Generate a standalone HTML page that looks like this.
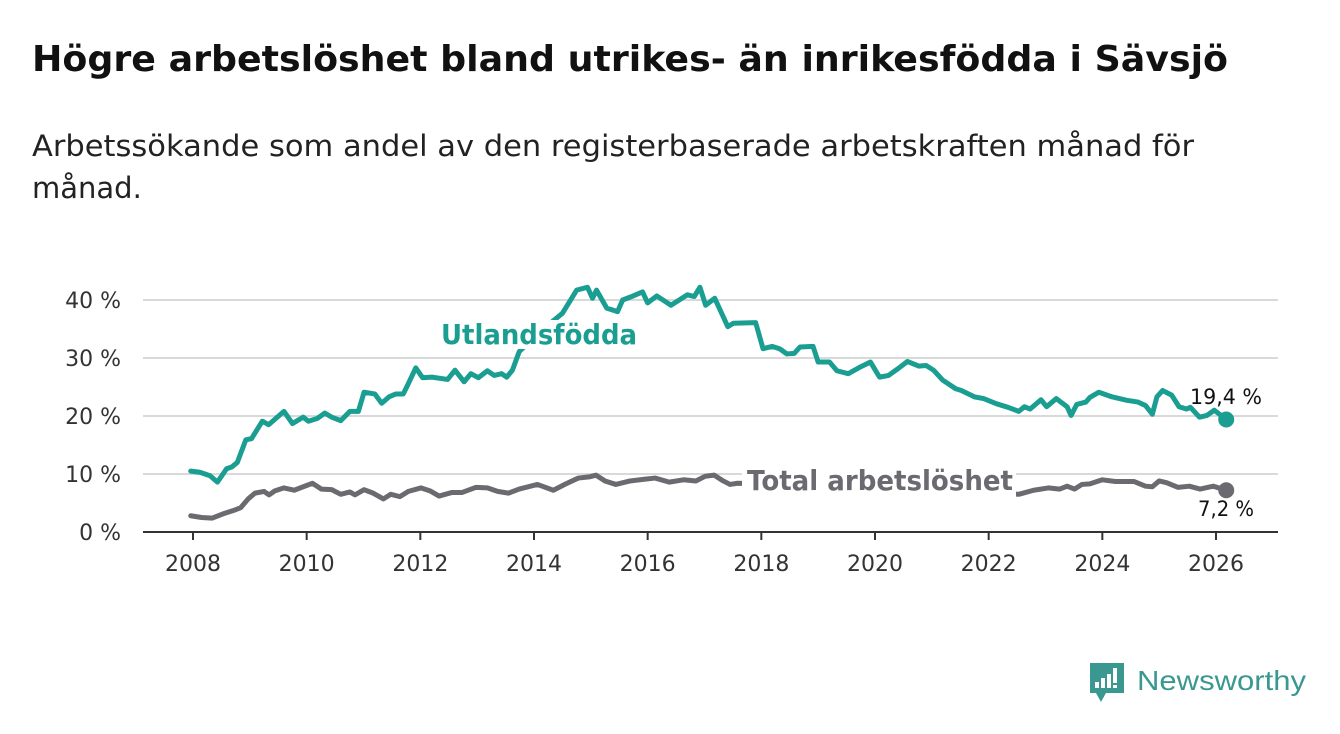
<!DOCTYPE html>
<html><head><meta charset="utf-8">
<style>
html,body{margin:0;padding:0;background:#fff;}
svg{display:block;font-family:"DejaVu Sans","Liberation Sans",sans-serif;}
</style></head>
<body>
<svg id="chart" width="1340" height="734" viewBox="0 0 1340 734">
<text x="32" y="71" font-size="36" font-weight="bold" fill="#111" textLength="1196" lengthAdjust="spacingAndGlyphs">Högre arbetslöshet bland utrikes- än inrikesfödda i Sävsjö</text>
<text x="32" y="156" font-size="29" fill="#222" textLength="1162" lengthAdjust="spacingAndGlyphs">Arbetssökande som andel av den registerbaserade arbetskraften månad för</text>
<text x="32" y="198" font-size="29" fill="#222">månad.</text>
<g id="grid"></g>
<g id="xaxis"></g>
<g id="series"></g>
<g id="labels"></g>
<g>
<path d="M1090 663 h34 v30 h-18 l-5 9 l-5 -9 h-6 z" fill="#3b9891"/>
<rect x="1095" y="682" width="4" height="6" fill="#fff"/><rect x="1101" y="678" width="4" height="10" fill="#fff"/><rect x="1107" y="674" width="4" height="14" fill="#fff"/><rect x="1113" y="668" width="4" height="15" fill="#fff"/><rect x="1113" y="685" width="4" height="3" fill="#fff"/>
<text x="1137" y="690" font-size="28" fill="#3b9891" textLength="169" lengthAdjust="spacingAndGlyphs" font-family="Liberation Sans, sans-serif">Newsworthy</text>
</g>
</svg>
<script>
const yTicks=[0,10,20,30,40];
const yTickLabels=["0 %","10 %","20 %","30 %","40 %"];
const xTicks=[2008,2010,2012,2014,2016,2018,2020,2022,2024,2026];
const foreignDates=[2007.96,2008.12,2008.3,2008.43,2008.59,2008.68,2008.78,2008.93,2009.03,2009.22,2009.33,2009.6,2009.75,2009.94,2010.03,2010.19,2010.32,2010.44,2010.6,2010.76,2010.91,2011.01,2011.2,2011.32,2011.45,2011.57,2011.7,2011.79,2011.92,2012.04,2012.2,2012.48,2012.61,2012.77,2012.89,2013.02,2013.18,2013.3,2013.43,2013.52,2013.62,2013.74,2014.1,2014.5,2014.75,2014.94,2015.03,2015.1,2015.28,2015.47,2015.56,2015.72,2015.91,2016.0,2016.16,2016.41,2016.7,2016.82,2016.92,2017.02,2017.18,2017.41,2017.51,2017.9,2018.03,2018.19,2018.32,2018.45,2018.58,2018.68,2018.91,2019.0,2019.2,2019.33,2019.53,2019.75,2019.92,2020.08,2020.24,2020.41,2020.57,2020.77,2020.9,2021.03,2021.19,2021.42,2021.52,2021.75,2021.91,2022.14,2022.34,2022.53,2022.63,2022.73,2022.92,2023.02,2023.19,2023.38,2023.45,2023.55,2023.71,2023.78,2023.94,2024.17,2024.43,2024.63,2024.76,2024.88,2024.96,2025.06,2025.22,2025.35,2025.48,2025.55,2025.71,2025.84,2025.97,2026.18];
const foreignValues=[10.5,10.3,9.7,8.6,10.9,11.2,12,15.9,16.1,19.1,18.5,20.8,18.7,19.8,19.1,19.6,20.5,19.8,19.2,20.8,20.8,24.1,23.8,22.2,23.3,23.8,23.8,25.6,28.3,26.6,26.7,26.3,27.9,25.9,27.3,26.6,27.8,27.0,27.3,26.7,27.9,31.1,34.5,37.7,41.7,42.2,40.3,41.7,38.6,38,40,40.6,41.4,39.5,40.7,39.1,40.9,40.6,42.2,39.1,40.3,35.4,36,36.1,31.6,32,31.6,30.7,30.8,31.9,32,29.3,29.3,27.8,27.3,28.5,29.3,26.7,27,28.2,29.4,28.6,28.7,27.9,26.2,24.7,24.4,23.3,23,22.1,21.5,20.8,21.6,21.2,22.8,21.6,23,21.6,20.1,22,22.4,23.2,24.1,23.3,22.7,22.4,21.8,20.3,23.3,24.4,23.6,21.6,21.2,21.5,19.8,20.1,21,19.4];
const totalDates=[2007.96,2008.15,2008.34,2008.52,2008.71,2008.84,2008.97,2009.09,2009.25,2009.34,2009.44,2009.6,2009.78,2009.94,2010.1,2010.26,2010.44,2010.6,2010.76,2010.85,2011.01,2011.17,2011.35,2011.48,2011.64,2011.79,2012.01,2012.17,2012.33,2012.55,2012.73,2012.98,2013.18,2013.36,2013.55,2013.74,2014.06,2014.34,2014.56,2014.78,2014.97,2015.09,2015.25,2015.44,2015.69,2015.94,2016.13,2016.38,2016.63,2016.85,2017.01,2017.17,2017.33,2017.45,2017.58,2017.9,2018.5,2019,2020,2021,2022,2022.53,2022.79,2023.05,2023.25,2023.38,2023.51,2023.64,2023.78,2024.0,2024.23,2024.56,2024.76,2024.88,2025.0,2025.13,2025.33,2025.53,2025.72,2025.95,2026.18];
const totalValues=[2.8,2.5,2.4,3.1,3.7,4.2,5.7,6.7,7.0,6.4,7.1,7.6,7.2,7.8,8.4,7.4,7.3,6.5,6.9,6.4,7.3,6.7,5.7,6.5,6.1,7.0,7.6,7.1,6.2,6.8,6.8,7.7,7.6,7.0,6.7,7.4,8.2,7.2,8.3,9.3,9.5,9.8,8.8,8.2,8.8,9.1,9.3,8.6,9.0,8.8,9.6,9.8,8.8,8.2,8.4,8.3,8.0,7.8,7.5,7.5,6.8,6.5,7.2,7.6,7.4,7.9,7.4,8.2,8.3,9.0,8.7,8.7,7.9,7.8,8.8,8.5,7.7,7.9,7.4,7.9,7.2];
const foreignEndLabel="19,4 %", totalEndLabel="7,2 %";

const NS="http://www.w3.org/2000/svg";
const X=v=>193+(v-2008)*(1216-193)/18;
const Y=v=>532-v*5.8;
function mk(tag,attrs,parent){const e=document.createElementNS(NS,tag);for(const k in attrs)e.setAttribute(k,attrs[k]);parent.appendChild(e);return e;}
const grid=document.getElementById('grid'),xa=document.getElementById('xaxis'),ser=document.getElementById('series'),lab=document.getElementById('labels');
yTicks.forEach((t,i)=>{
 if(t>0){const l=mk('line',{x1:143,x2:1278,y1:Y(t),y2:Y(t),stroke:'#d9d9d9','stroke-width':2},grid);
 
 }
 const tx=mk('text',{x:121,y:Y(t)+8,'text-anchor':'end','font-size':22,fill:'#333'},grid);tx.textContent=yTickLabels[i];
 
 
});
const ax=mk('line',{x1:143,x2:1278,y1:532,y2:532,stroke:'#333','stroke-width':2},xa);


xTicks.forEach(t=>{
 mk('line',{x1:X(t),x2:X(t),y1:532,y2:540,stroke:'#333','stroke-width':2},xa);
 const tx=mk('text',{x:X(t),y:571,'text-anchor':'middle','font-size':22,fill:'#333'},xa);tx.textContent=t;
 
 
});
function line(d,v,color,name){
 const p=mk('polyline',{points:d.map((x,i)=>X(x)+','+Y(v[i])).join(' '),fill:'none',stroke:color,'stroke-width':5,'stroke-linejoin':'round','stroke-linecap':'round'},ser);
 
 
 const c=mk('circle',{cx:X(d[d.length-1]),cy:Y(v[v.length-1]),r:8,fill:color},ser);
 
 
}
line(totalDates,totalValues,'#6b6a70','total-line');
line(foreignDates,foreignValues,'#1a9e91','foreign-born-line');
function label(x,y,txt,color,name,size,w,anchor,bg,len){
 if(bg) mk('rect',{x:bg[0],y:bg[1],width:bg[2],height:bg[3],fill:'#fff'},lab);
 const t=mk('text',{x:x,y:y,'font-size':size,'font-weight':w,fill:color,'text-anchor':anchor},lab);
 if(len){t.setAttribute('textLength',len);t.setAttribute('lengthAdjust','spacingAndGlyphs');}
 t.textContent=txt;
 
 
}
label(539,344,'Utlandsfödda','#1a9e91','foreign-born-label',28,'bold','middle',[434,320,210,29],196);
label(880,490,'Total arbetslöshet','#6b6a70','total-label',28,'bold','middle',[742,462,274,36],266);
label(1226,404,foreignEndLabel,'#111','foreign-end-value',21,'normal','middle',null,72);
label(1226,516,totalEndLabel,'#111','total-end-value',21,'normal','middle',null,56);
</script>
</body></html>
